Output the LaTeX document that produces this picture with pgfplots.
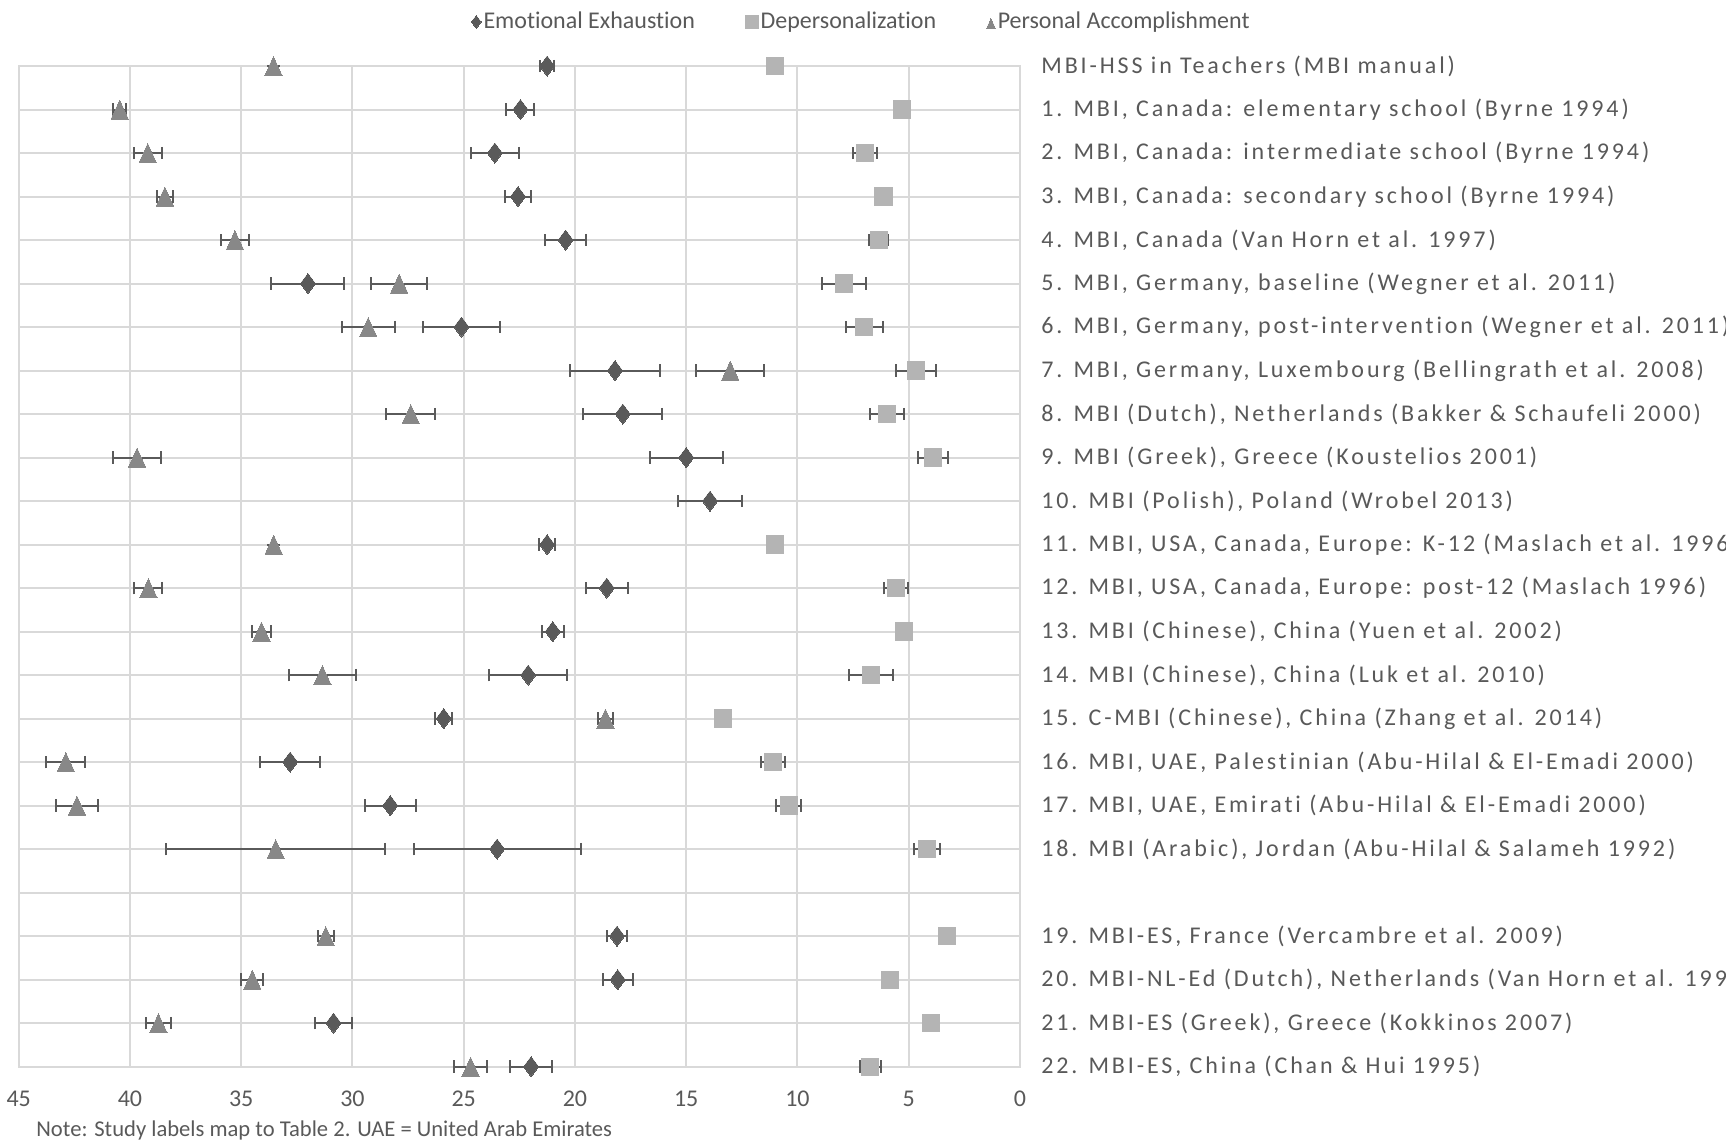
\documentclass[border=0pt]{standalone}
\usepackage{pgfplots}
\pgfplotsset{compat=1.18}
\usepackage{pgfplotstable}
\usepackage{fontspec}
\setmainfont{Carlito}[RawFeature={-liga}]
\newfontfamily\spaced{Carlito}[LetterSpace=12, RawFeature={-liga}]
\definecolor{gridc}{HTML}{D9D9D9}
\definecolor{txt}{HTML}{595959}
\definecolor{eec}{HTML}{5A5A5A}
\definecolor{dpc}{HTML}{B4B4B4}
\definecolor{pac}{HTML}{888888}
\definecolor{barc}{HTML}{5A5A5A}

\pgfplotstableread{
x y ex
21.25 0 0.3
22.45 1 0.63
23.6 2 1.08
22.56 3 0.57
20.42 4 0.91
32.0 5 1.64
25.1 6 1.75
18.2 7 2.03
17.85 8 1.78
15.0 9 1.65
13.93 10 1.42
21.25 11 0.35
18.57 12 0.95
21.0 13 0.5
22.1 14 1.75
25.9 15 0.39
32.8 16 1.36
28.3 17 1.14
23.5 18 3.75
18.11 20 0.43
18.08 21 0.67
30.85 22 0.85
21.97 23 0.95
}\tblEE

\pgfplotstableread{
x y ex
11.0 0 0
5.32 1 0
6.95 2 0.54
6.13 3 0
6.35 4 0.42
7.9 5 0.99
7.0 6 0.83
4.67 7 0.9
5.98 8 0.75
3.9 9 0.67
11.0 11 0
5.57 12 0.52
5.2 13 0
6.7 14 0.98
13.33 15 0
11.1 16 0.53
10.39 17 0.56
4.19 18 0.59
3.29 20 0
5.84 21 0
4.0 22 0
6.73 23 0.47
}\tblDP

\pgfplotstableread{
x y ex
33.55 0 0
40.46 1 0.3
39.2 2 0.63
38.43 3 0.35
35.28 4 0.65
27.9 5 1.25
29.29 6 1.18
13.02 7 1.52
27.38 8 1.11
39.68 9 1.07
33.54 11 0
39.17 12 0.63
34.09 13 0.41
31.35 14 1.51
18.63 15 0.33
42.88 16 0.88
42.38 17 0.94
33.45 18 4.92
31.2 20 0.36
34.5 21 0.5
38.72 22 0.56
24.69 23 0.74
}\tblPA

\begin{document}
\begin{tikzpicture}
\begin{axis}[
  at={(0,0)}, anchor=south west,
  scale only axis, width=500.65bp, height=500.3bp,
  x dir=reverse, y dir=reverse,
  xmin=0, xmax=45, ymin=0, ymax=23,
  clip=false,
  axis line style={draw=gridc, line width=1bp},
  xtick={0,5,...,45}, ytick={0,...,23},
  xmajorgrids, ymajorgrids,
  grid style={draw=gridc, line width=1bp},
  major tick length=0pt,
  yticklabel pos=right,
  yticklabels={
    {MBI-HSS in Teachers (MBI manual)},
    {1. MBI, Canada: elementary school (Byrne 1994)},
    {2. MBI, Canada: intermediate school (Byrne 1994)},
    {3. MBI, Canada: secondary school (Byrne 1994)},
    {4. MBI, Canada (Van Horn et al. 1997)},
    {5. MBI, Germany, baseline (Wegner et al. 2011)},
    {6. MBI, Germany, post-intervention (Wegner et al. 2011)},
    {7. MBI, Germany, Luxembourg (Bellingrath et al. 2008)},
    {8. MBI (Dutch), Netherlands (Bakker \& Schaufeli 2000)},
    {9. MBI (Greek), Greece (Koustelios 2001)},
    {10. MBI (Polish), Poland (Wrobel 2013)},
    {11. MBI, USA, Canada, Europe: K-12 (Maslach et al. 1996)},
    {12. MBI, USA, Canada, Europe: post-12 (Maslach 1996)},
    {13. MBI (Chinese), China (Yuen et al. 2002)},
    {14. MBI (Chinese), China (Luk et al. 2010)},
    {15. C-MBI (Chinese), China (Zhang et al. 2014)},
    {16. MBI, UAE, Palestinian (Abu-Hilal \& El-Emadi 2000)},
    {17. MBI, UAE, Emirati (Abu-Hilal \& El-Emadi 2000)},
    {18. MBI (Arabic), Jordan (Abu-Hilal \& Salameh 1992)},
    {},
    {19. MBI-ES, France (Vercambre et al. 2009)},
    {20. MBI-NL-Ed (Dutch), Netherlands (Van Horn et al. 1999)},
    {21. MBI-ES (Greek), Greece (Kokkinos 2007)},
    {22. MBI-ES, China (Chan \& Hui 1995)}},
  yticklabel style={anchor=west, inner sep=0pt, xshift=10.5bp, font=\spaced\fontsize{12bp}{14bp}\selectfont, text=txt},
  xticklabel style={anchor=center, inner sep=0pt, yshift=-16bp, font=\fontsize{12bp}{14bp}\selectfont, text=txt},
  /pgf/number format/assume math mode=true,
  legend columns=3,
  legend style={at={(axis description cs:0.842,1.044)}, anchor=center, draw=none, fill=none,
    inner sep=0pt, font=\fontsize{12bp}{14bp}\selectfont, text=txt,
    nodes={inner sep=1.2bp},
    /tikz/every even column/.append style={column sep=24bp}},
  legend image code/.code={\draw[#1] plot coordinates {(0bp,0bp)};},
  legend image post style={mark size=3.2bp},
  error bars/error bar style={draw=barc, line width=1bp},
  error bars/error mark options={rotate=90, mark size=3.1bp, draw=barc, line width=1bp},
]
\addplot[color=eec, only marks, mark=diamond*, mark size=5bp, mark options={draw=eec, line width=0pt, fill=eec},
  error bars/.cd, x dir=both, x explicit]
  table[x=x, y=y, x error=ex]{\tblEE};
\addplot[color=dpc, only marks, mark=square*, mark size=4.3bp, mark options={draw=dpc, line width=0pt, fill=dpc},
  error bars/.cd, x dir=both, x explicit]
  table[x=x, y=y, x error=ex]{\tblDP};
\addplot[color=pac, only marks, mark=triangle*, mark size=6.3bp, mark options={draw=pac, line width=0pt, fill=pac, xscale=0.79, yshift=-1.6bp},
  error bars/.cd, x dir=both, x explicit]
  table[x=x, y=y, x error=ex]{\tblPA};
\legend{Emotional Exhaustion, Depersonalization, Personal Accomplishment}
\end{axis}
\node[anchor=west, inner sep=0pt, font=\fontsize{11.3bp}{13bp}\selectfont, text=txt] at (8.65bp,-31.7bp) {Note: Study labels map to Table 2. UAE = United Arab Emirates};
\pgfresetboundingbox
\useasboundingbox (-9.35bp,-37.7bp) rectangle (853.65bp,533.3bp);
\end{tikzpicture}
\end{document}
